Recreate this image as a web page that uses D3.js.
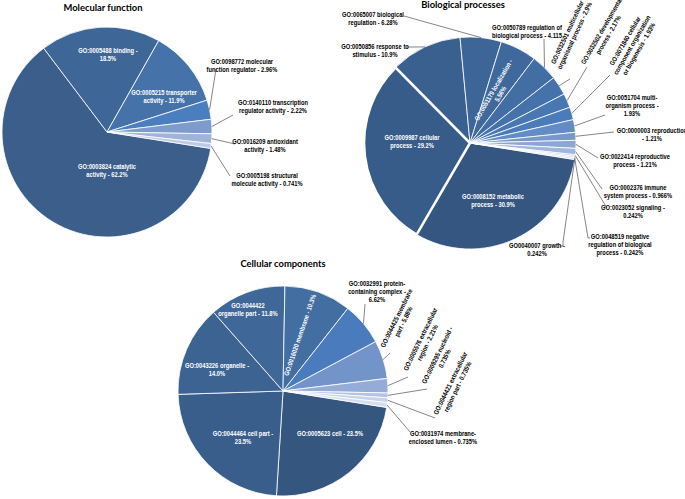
<!DOCTYPE html>
<html>
<head>
<meta charset="utf-8">
<script src="https://cdn.jsdelivr.net/npm/d3@7"></script>
<style>
  body { margin: 0; background: #fff; }
  svg { display: block; }
  text { font-family: "Liberation Sans", Arial, sans-serif; font-weight: bold; }
</style>
</head>
<body>
<svg id="chart" width="685" height="499"></svg>
<script>
// ---- data ----
const mfTerms = ['GO:0003824 catalytic activity', 'GO:0005488 binding', 'GO:0005215 transporter activity',
  'GO:0098772 molecular function regulator', 'GO:0140110 transcription regulator activity',
  'GO:0016209 antioxidant activity', 'GO:0005198 structural molecule activity'];
const mfValues = [62.2, 18.5, 11.9, 2.96, 2.22, 1.48, 0.741];

const bpTerms = ['GO:0008152 metabolic process', 'GO:0009987 cellular process', 'GO:0050896 response to stimulus',
  'GO:0065007 biological regulation', 'GO:0051179 localization', 'GO:0050789 regulation of biological process',
  'GO:0032501 multicellular organismal process', 'GO:0032502 developmental process',
  'GO:0071840 cellular component organization or biogenesis', 'GO:0051704 multi-organism process',
  'GO:0000003 reproduction', 'GO:0022414 reproductive process', 'GO:0002376 immune system process',
  'GO:0023052 signaling', 'GO:0040007 growth', 'GO:0048519 negative regulation of biological process'];
const bpValues = [30.9, 29.2, 10.9, 6.28, 5.56, 4.115, 2.9, 2.17, 1.93, 1.93, 1.21, 1.21, 0.966, 0.242, 0.242, 0.242];

const ccTerms = ['GO:0005623 cell', 'GO:0044464 cell part', 'GO:0043226 organelle', 'GO:0044422 organelle part',
  'GO:0016020 membrane', 'GO:0032991 protein-containing complex', 'GO:0044425 membrane part',
  'GO:0005576 extracellular region', 'GO:0009295 nucleoid', 'GO:0044421 extracellular region part',
  'GO:0031974 membrane-enclosed lumen'];
const ccValues = [23.5, 23.5, 14.0, 11.8, 10.3, 6.62, 5.88, 2.21, 0.735, 0.735, 0.735];

// ---- colours & layout ----
const mfColors = ['#3b5e8b', '#3e6797', '#4472a9', '#4a7ebf', '#7d9bcb', '#a0b4d9', '#bdcbe6'];
const bpColors = ['#345680', '#385c89', '#3a6090', '#3d6597', '#3f699c', '#426ea3', '#4572aa', '#4877b2',
  '#4b7cba', '#628cc5', '#7898cc', '#8ca7d3', '#a0b6db', '#b4c5e3', '#c4d2ea', '#d3ddef'];
const ccColors = ['#34567f', '#395e8b', '#3c6391', '#3f6898', '#436ea1', '#4a7cbd', '#7394c8', '#94acd7',
  '#b3c3e3', '#c7d3eb', '#d6dfef'];

const startDeg = 99;
const svg = d3.select('#chart');

// label: lines, x, y, fill, rot, leader points (first point is computed on the slice edge)
const mfLabels = [
  { i: 0, lines: ['GO:0003824 catalytic', 'activity - 62.2%'], x: 107, y: 167, fill: '#fff' },
  { i: 1, lines: ['GO:0005488 binding -', '18.5%'], x: 108, y: 51, fill: '#fff' },
  { i: 2, lines: ['GO:0005215 transporter', 'activity - 11.9%'], x: 164, y: 93, fill: '#fff' },
  { i: 3, lines: ['GO:0098772 molecular', 'function regulator - 2.96%'], x: 242, y: 62, leader: [[216, 69]] },
  { i: 4, lines: ['GO:0140110 transcription', 'regulator activity - 2.22%'], x: 273, y: 103, leader: [[233, 115]] },
  { i: 5, lines: ['GO:0016209 antioxidant', 'activity - 1.48%'], x: 265, y: 142, leader: [[235, 144]] },
  { i: 6, lines: ['GO:0005198 structural', 'molecule activity - 0.741%'], x: 267, y: 176, leader: [[230, 176]] }
];

const bpLabels = [
  { i: 0, lines: ['GO:0008152  metabolic', 'process - 30.9%'], x: 493, y: 197, fill: '#fff' },
  { i: 1, lines: ['GO:0009987 cellular', 'process - 29.2%'], x: 412, y: 138, fill: '#fff' },
  { i: 2, lines: ['GO:0050856 response to', 'stimulus - 10.9%'], x: 375, y: 47, leader: [[407, 47]] },
  { i: 3, lines: ['GO:0065007 biological', 'regulation - 6.28%'], x: 373, y: 15, leader: [[404, 16]] },
  { i: 4, lines: ['GO:0051179 localization -', '5.56%'], x: 497, y: 92, fill: '#fff', rot: -60 },
  { i: 5, lines: ['GO:0050789 regulation of', 'biological process - 4.115'], x: 527, y: 28, leader: [[544, 39]] },
  { i: 6, lines: ['GO:0032501 multicellular', 'organismal process - 2.9%'], x: 571, y: 34, rot: -65, leader: [[570, 79]] },
  { i: 7, lines: ['GO:0032502 developmental', 'process - 2.17%'], x: 605, y: 33, rot: -60, leader: [[587, 67]] },
  { i: 8, lines: ['GO:0071840 cellular', 'component organization', 'or biogenesis - 1.93%'], x: 632, y: 45, rot: -60, leader: [[610, 75]] },
  { i: 9, lines: ['GO:0051704 multi-', 'organism process -', '1.93%'], x: 632, y: 98, leader: [[605, 115]] },
  { i: 10, lines: ['GO:0000003 reproduction', '- 1.21%'], x: 652, y: 131, leader: [[614, 132]] },
  { i: 11, lines: ['GO:0022414 reproductive', 'process - 1.21%'], x: 635, y: 157, leader: [[598, 158]] },
  { i: 12, lines: ['GO:0002376 immune', 'system process - 0.966%'], x: 638, y: 188, leader: [[602, 189]] },
  { i: 13, lines: ['GO:0023052 signaling -', '0.242%'], x: 633, y: 208, leader: [[607, 208]] },
  { i: 14, lines: ['GO0040007 growth -', '0.242%'], x: 537, y: 246, leader: [[563, 242], [563, 246], [560, 246]] },
  { i: 15, lines: ['GO:0048519  negative', 'regulation of biological', 'process - 0.242%'], x: 620, y: 237, leader: [[588, 238], [590, 238]] }
];

const ccLabels = [
  { i: 0, lines: ['GO:0005623 cell - 23.5%'], x: 330, y: 434, fill: '#fff' },
  { i: 1, lines: ['GO:0044464 cell part -', '23.5%'], x: 243, y: 434, fill: '#fff' },
  { i: 2, lines: ['GO:0043226 organelle -', '14.0%'], x: 217, y: 366, fill: '#fff' },
  { i: 3, lines: ['GO:0044422', 'organelle part - 11.8%'], x: 248, y: 306, fill: '#fff' },
  { i: 4, lines: ['GO:0016020 membrane - 10.3%'], x: 300, y: 335, fill: '#fff', rot: -71 },
  { i: 5, lines: ['GO:0032991 protein-', 'containing complex -', '6.62%'], x: 377, y: 284, leader: [[365, 304]] },
  { i: 6, lines: ['GO:0044425 membrane', 'part - 5.88%'], x: 400, y: 320, rot: -64, leader: [[390, 353]] },
  { i: 7, lines: ['GO:0005576 extracellular', 'region - 2.21%'], x: 424, y: 341, rot: -64, leader: [[408, 377]] },
  { i: 8, lines: ['GO:0009295 nucleoid -', '0.735%'], x: 441, y: 357, rot: -64, leader: [[427, 389]] },
  { i: 9, lines: ['GO:0044421 extracellular', 'region part - 0.735%'], x: 454, y: 385, rot: -64, leader: [[435, 418]] },
  { i: 10, lines: ['GO:0031974 membrane-', 'enclosed lumen - 0.735%'], x: 443, y: 434, leader: [[410, 432]] }
];

const charts = [
  { title: 'Molecular function', tx: 103, ty: 11, cx: 107, cy: 132, r: 105,
    values: mfValues, terms: mfTerms, colors: mfColors, labels: mfLabels },
  { title: 'Biological processes', tx: 463, ty: 8, cx: 470, cy: 143, r: 106,
    values: bpValues, terms: bpTerms, colors: bpColors, labels: bpLabels, thick: 1 },
  { title: 'Cellular components', tx: 283, ty: 267, cx: 283, cy: 391, r: 105,
    values: ccValues, terms: ccTerms, colors: ccColors, labels: ccLabels }
];

const rad = d => d * Math.PI / 180;
const lineGen = d3.line();
const lineH = 8;
const squeeze = 0.85; // labels in the source use a narrow face

// all slices first, so no label gets covered by a later pie
const built = charts.map(c => {
  const pie = d3.pie().sort(null).value(d => d)
    .startAngle(rad(startDeg)).endAngle(rad(startDeg) + 2 * Math.PI);
  const arcs = pie(c.values);
  const arc = d3.arc().innerRadius(0).outerRadius(c.r);

  const g = svg.append('g').attr('transform', `translate(${c.cx},${c.cy})`);
  g.selectAll('path.slice')
    .data(arcs)
    .enter().append('path')
    .attr('class', 'slice')
    .attr('d', arc)
    .attr('fill', (d, i) => c.colors[i])
    .attr('stroke', '#fff')
    .attr('stroke-width', 0.8)
    .append('title').text((d, i) => c.terms[i] + ' - ' + d.data + '%');

  if (c.thick !== undefined) {
    // this slice sits apart with a wider white gap
    g.append('path')
      .attr('d', arc(arcs[c.thick]))
      .attr('fill', c.colors[c.thick])
      .attr('stroke', '#fff')
      .attr('stroke-width', 2.6);
  }
  return arcs;
});

charts.forEach((c, ci) => {
  const arcs = built[ci];
  svg.append('text')
    .attr('x', c.tx).attr('y', c.ty)
    .attr('text-anchor', 'middle')
    .style('font-family', 'Lato, "Open Sans", sans-serif')
    .style('font-size', '9.4px')
    .attr('fill', '#000')
    .text(c.title);

  c.labels.forEach(l => {
    if (l.leader) {
      const a = arcs[l.i];
      const m = (a.startAngle + a.endAngle) / 2;
      const p0 = [c.cx + c.r * Math.sin(m), c.cy - c.r * Math.cos(m)];
      svg.append('path')
        .attr('d', lineGen([p0, ...l.leader]))
        .attr('fill', 'none')
        .attr('stroke', '#333')
        .attr('stroke-width', 0.6);
    }
    const t = svg.append('text')
      .attr('text-anchor', 'middle')
      .attr('fill', l.fill || '#000')
      .style('font-size', '6.8px')
      .attr('transform', `translate(${l.x},${l.y})` + (l.rot ? ` rotate(${l.rot})` : '') + ` scale(${squeeze},1)`);
    const off = l.rot ? -(l.lines.length - 1) * lineH / 2 : 0;
    l.lines.forEach((s, k) => {
      t.append('tspan').attr('x', 0).attr('y', off + k * lineH + 2.3).text(s);
    });
  });
});
</script>
</body>
</html>
